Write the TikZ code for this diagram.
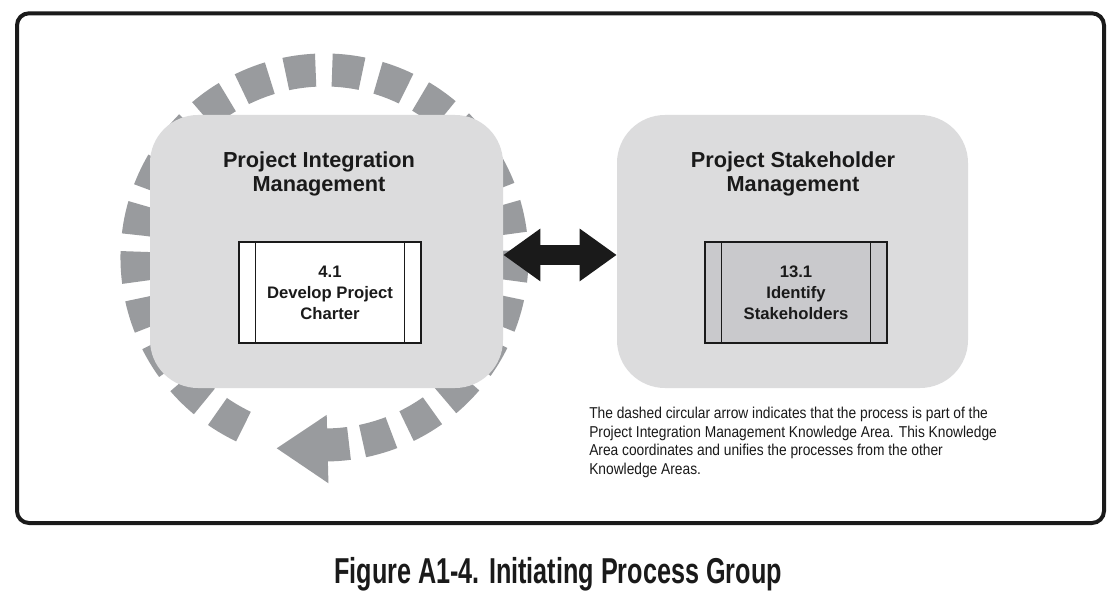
\documentclass[tikz,border=0pt]{standalone}
\usepackage{fontspec}
\setmainfont{Liberation Sans}
\usepackage{graphicx}
\usetikzlibrary{arrows.meta}
\definecolor{ringgray}{RGB}{153,155,158}
\definecolor{areagray}{RGB}{220,220,221}
\definecolor{procgray}{RGB}{201,201,204}
\definecolor{inkblack}{RGB}{26,26,26}
\begin{document}
\begin{tikzpicture}[x=0.75pt,y=0.75pt,
  frame/.style={draw=inkblack,line width=3pt,rounded corners=9pt},
  ring/.style={draw=ringgray,line width=24.75pt,dash pattern=on 22.58pt off 12.395pt},
  ringsolid/.style={draw=ringgray,line width=24.75pt},
  area/.style={fill=areagray,rounded corners=36pt,minimum height=204.75pt,inner sep=0pt},
  heading/.style={font=\fontsize{16.3}{17.6}\selectfont\bfseries,align=center,text=inkblack,inner sep=0pt},
  procbox/.style={draw=inkblack,line width=1.1pt,minimum width=136.5pt,minimum height=75.75pt,inner sep=0pt,align=center,font=\fontsize{12.5}{15.75}\selectfont\bfseries,text=inkblack},
  strip/.style={draw=inkblack,line width=1.1pt},
  link/.style={draw=inkblack,line width=15pt,{Triangle[length=27.75pt,width=37.5pt]}-{Triangle[length=27.75pt,width=37.5pt]}}
]
\useasboundingbox (0,0) rectangle (1118,601);
\path[fill=white] (0,0) rectangle (1118,601);
\draw[frame] (17,78) rectangle (1104,587.7);

% dashed circular arrow
\coordinate (ringc) at (324.5,343.5);
\draw[ring] (ringc) ++(-115.6:140.625pt) arc[start angle=-115.6,end angle=-438.4,radius=140.625pt];
\draw[ringsolid] (ringc) ++(-82.5:140.625pt) arc[start angle=-82.5,end angle=-89.5,radius=140.625pt];
\fill[ringgray] ([shift={(-89.2:118.1pt)}]ringc) -- ([shift={(-104.06:147.5pt)}]ringc) -- ([shift={(-89:169.35pt)}]ringc) -- cycle;

% knowledge areas
\node[area,minimum width=264.75pt] (pim) at (326.5,349.5) {};
\node[area,minimum width=263.25pt] (psm) at (792.5,349.5) {};
\node[heading] (pimt) at (319,427) {Project Integration\\Management};
\node[heading] (psmt) at (793,427) {Project Stakeholder\\Management};

% processes
\node[procbox,fill=white] (p41) at (330,308.5) {4.1\\Develop Project\\Charter};
\node[procbox,fill=procgray] (p131) at (796,308.5) {13.1\\Identify\\Stakeholders};
\foreach \b in {p41,p131} {
  \draw[strip] ([xshift=12.75pt]\b.north west) -- ([xshift=12.75pt]\b.south west);
  \draw[strip] ([xshift=-12.75pt]\b.north east) -- ([xshift=-12.75pt]\b.south east);
}

% double arrow
\draw[link] ([yshift=-2.6pt]pim.east) -- ([yshift=-2.6pt]psm.west);

% note
\node[anchor=west,inner sep=0pt,text=inkblack] (note) at (589,158.4) {\scalebox{0.875}[1]{\fontsize{11.8}{13.9}\selectfont\begin{tabular}{@{}l@{}}The dashed circular arrow indicates that the process is part of the\\Project Integration Management Knowledge Area. This Knowledge\\Area coordinates and unifies the processes from the other\\Knowledge Areas.\end{tabular}}};

% caption
\node[anchor=base,inner sep=0pt,text=inkblack] (cap) at (558,17.7) {\scalebox{0.70}[1]{\fontsize{27}{30}\selectfont\bfseries Figure A1-4. Initiating Process Group}};
\end{tikzpicture}
\end{document}
